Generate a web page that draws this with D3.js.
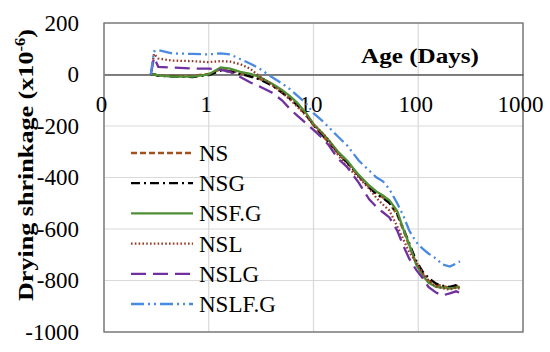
<!DOCTYPE html>
<html>
<head>
<meta charset="utf-8">
<script src="https://cdn.jsdelivr.net/npm/d3@7/dist/d3.min.js"></script>
<style>
    body { margin: 0; background: #fff; }
    #chart { width: 550px; height: 352px; }
    text { font-family: "Liberation Serif", "DejaVu Serif", serif; fill: #000; }
</style>
</head>
<body>
<div id="chart"></div>
<script>
//Datos (edad en días, retracción x10^-6)
const edades = [0.28, 0.3, 0.33, 0.45, 0.7, 1, 1.3, 1.6, 2, 2.5, 3, 4, 5, 6, 7, 8.5, 10, 12, 14, 17, 21, 27, 34, 40, 46, 53, 63, 72, 82, 96, 110, 125, 148, 170, 200, 230, 250];
const ns = [0, 0, -3, -5, -5, 2, 20, 15, 5, -5, -15, -40, -68, -95, -120, -158, -198, -235, -265, -305, -345, -395, -438, -462, -478, -500, -545, -605, -665, -735, -775, -800, -815, -822, -828, -822, -820];
const nsg = [0, 0, -5, -8, -10, -2, 15, 12, 2, -8, -18, -42, -70, -95, -118, -155, -195, -232, -262, -302, -342, -392, -440, -465, -480, -498, -540, -598, -655, -725, -765, -790, -812, -820, -825, -818, -815];
const nsfg = [0, 0, -3, -8, -8, 0, 27, 23, 10, 2, -8, -35, -60, -85, -110, -150, -192, -225, -255, -298, -335, -390, -431, -455, -470, -489, -530, -600, -660, -740, -780, -808, -825, -828, -831, -828, -825];
const nsl = [0, 80, 62, 54, 52, 48, 52, 50, 40, 22, -5, -40, -70, -98, -125, -160, -195, -225, -255, -310, -360, -400, -443, -480, -505, -528, -590, -640, -690, -730, -770, -800, -822, -830, -835, -828, -832];
const nslg = [0, 66, 30, 27, 23, 23, 18, 10, -10, -31, -45, -70, -100, -135, -160, -190, -215, -245, -275, -325, -360, -420, -485, -515, -535, -555, -606, -665, -715, -760, -790, -825, -847, -858, -850, -842, -848];
const nslfg = [0, 90, 95, 82, 80, 78, 82, 78, 60, 42, 25, -10, -35, -58, -82, -113, -150, -178, -205, -240, -276, -334, -373, -400, -415, -445, -500, -548, -606, -652, -676, -695, -715, -738, -746, -734, -725];

const nombres = ['NS', 'NSG', 'NSF.G', 'NSL', 'NSLG', 'NSLF.G'];
const valores = [ns, nsg, nsfg, nsl, nslg, nslfg];

const xTicks = [0.1, 1, 10, 100, 1000];
const xTickLabels = ['0', '1', '10', '100', '1000'];
const yTicks = [200, 0, -200, -400, -600, -800, -1000];

//Estilos de cada serie
const colores = ['#a3501f', '#000000', '#4f8f35', '#963a2a', '#7030a0', '#4a8ae0'];
const trazos = ['6,3', '9,4,2,4', null, '1.6,2.2', '15,7', '13,4,2,4,2,4'];

const FUENTE = '"Liberation Serif", "DejaVu Serif", serif';

let margin = {top: 23, right: 27, bottom: 20, left: 104},
    width = 550 - margin.left - margin.right,
    height = 352 - margin.top - margin.bottom;

let svg = d3.select('#chart')
    .append('svg')
        .attr('width', width + margin.left + margin.right)
        .attr('height', height + margin.top + margin.bottom)
    .append('g')
        .attr('transform', 'translate(' + margin.left + ',' + margin.top + ')');

let x = d3.scaleLog()
    .domain([0.1, 1000])
    .range([0, width]);

let y = d3.scaleLinear()
    .domain([-1000, 200])
    .range([height, 0]);

//Rejilla horizontal
svg.append('g')
    .selectAll('line')
    .data(yTicks)
    .enter()
    .append('line')
    .attr('x1', 0)
    .attr('x2', width)
    .attr('y1', function(d) { return y(d); })
    .attr('y2', function(d) { return y(d); })
    .attr('stroke', '#d9d9d9')
    .attr('stroke-width', 1.2);

//Rejilla vertical
svg.append('g')
    .selectAll('line')
    .data(xTicks)
    .enter()
    .append('line')
    .attr('x1', function(d) { return x(d); })
    .attr('x2', function(d) { return x(d); })
    .attr('y1', 0)
    .attr('y2', height)
    .attr('stroke', '#d9d9d9')
    .attr('stroke-width', 1.2);

//Etiquetas del eje Y
let yAxis = function(g) {
    g.call(d3.axisLeft(y).tickValues(yTicks).tickSize(0).tickPadding(25)
        .tickFormat(function(d) { return String(d); }));
    g.call(function(g){g.select('.domain').remove()});
    g.attr('font-family', null);
    g.selectAll('.tick text')
        .style('font-size', '23px')
        .style('font-family', FUENTE);
}
svg.append('g').call(yAxis);

//Borde del área de gráfico
svg.append('rect')
    .attr('x', 0)
    .attr('y', 0)
    .attr('width', width)
    .attr('height', height)
    .attr('fill', 'none')
    .attr('stroke', '#6e6e6e')
    .attr('stroke-width', 1.3);

//Eje X en y = 0
let xAxis = function(g) {
    g.call(d3.axisBottom(x).tickValues(xTicks).tickSize(0).tickPadding(21)
        .tickFormat(function(d, i) { return xTickLabels[i]; }));
    g.call(function(g){g.select('.domain').attr('stroke', '#595959').attr('stroke-width', 1.3)});
    g.attr('font-family', null);
    g.selectAll('.tick text')
        .attr('dx', -3)
        .style('font-size', '23px')
        .style('font-family', FUENTE);
}
svg.append('g')
    .attr('transform', 'translate(0,' + y(0) + ')')
    .call(xAxis);

//Líneas
let line = d3.line()
    .x(function(d) { return x(d[0]); })
    .y(function(d) { return y(d[1]); });

valores.forEach(function(serie, i) {
    let puntos = edades.map(function(e, j) { return [e, serie[j]]; });
    svg.append('path')
        .datum(puntos)
        .attr('class', 'line line_' + i)
        .attr('fill', 'none')
        .attr('stroke', colores[i])
        .attr('stroke-width', 2.3)
        .attr('stroke-dasharray', trazos[i])
        .attr('d', line);
});

//Leyenda
let leyenda = svg.append('g')
    .attr('transform', 'translate(' + (131 - margin.left) + ',' + (153 - margin.top) + ')');

nombres.forEach(function(n, i) {
    let g = leyenda.append('g').attr('transform', 'translate(0,' + (i * 30.2) + ')');
    g.append('line')
        .attr('x1', 0)
        .attr('x2', 62)
        .attr('stroke', colores[i])
        .attr('stroke-width', 2.3)
        .attr('stroke-dasharray', trazos[i]);
    g.append('text')
        .attr('x', 68)
        .attr('y', 8)
        .style('font-size', '23px')
        .style('font-family', FUENTE)
        .text(n);
});

//Títulos
svg.append('text')
    .attr('x', 420 - margin.left)
    .attr('y', 63 - margin.top)
    .attr('text-anchor', 'middle')
    .attr('textLength', 118)
    .attr('lengthAdjust', 'spacingAndGlyphs')
    .style('font-size', '22px')
    .style('font-weight', 'bold')
    .style('font-family', FUENTE)
    .text('Age (Days)');

let yTitulo = svg.append('text')
    .attr('transform', 'translate(' + (33 - margin.left) + ',' + (165 - margin.top) + ') rotate(-90)')
    .attr('text-anchor', 'middle')
    .attr('textLength', 272)
    .attr('lengthAdjust', 'spacingAndGlyphs')
    .style('font-size', '22px')
    .style('font-weight', 'bold')
    .style('font-family', FUENTE);
yTitulo.append('tspan').text('Drying  shrinkage (x10');
yTitulo.append('tspan').attr('dy', -8).style('font-size', '14px').text('-6');
yTitulo.append('tspan').attr('dy', 8).text(')');
</script>
</body>
</html>
